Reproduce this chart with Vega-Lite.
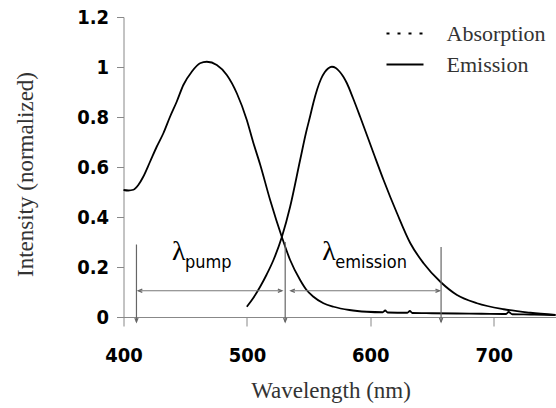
{
  "$schema": "https://vega.github.io/schema/vega-lite/v6.json",
  "autosize": {"type": "none"},
  "padding": {"left": 123.5, "top": 17, "right": 0, "bottom": 91},
  "width": 432,
  "height": 300,
  "background": "white",
  "config": {
    "view": {"stroke": null},
    "axis": {"grid": false, "labelFlush": false, "domainColor": "#888", "tickColor": "#888", "labelColor": "#000", "labelFont": "Liberation Sans Narrow, DejaVu Sans Condensed, Arial Narrow, sans-serif", "labelFontWeight": "bold", "labelFontSize": 20, "titleFont": "Liberation Serif, Times New Roman, DejaVu Serif, serif", "titleFontWeight": "normal", "titleFontSize": 23, "titleColor": "#333"}
  },
  "datasets": {
    "spectra": [
      {"series": "Absorption", "wavelength": 400, "intensity": 0.508},
      {"series": "Absorption", "wavelength": 404, "intensity": 0.506},
      {"series": "Absorption", "wavelength": 408, "intensity": 0.509},
      {"series": "Absorption", "wavelength": 412, "intensity": 0.528},
      {"series": "Absorption", "wavelength": 416, "intensity": 0.561},
      {"series": "Absorption", "wavelength": 421.5, "intensity": 0.621},
      {"series": "Absorption", "wavelength": 426.9, "intensity": 0.681},
      {"series": "Absorption", "wavelength": 432.3, "intensity": 0.735},
      {"series": "Absorption", "wavelength": 437.7, "intensity": 0.801},
      {"series": "Absorption", "wavelength": 443.1, "intensity": 0.861},
      {"series": "Absorption", "wavelength": 448.5, "intensity": 0.928},
      {"series": "Absorption", "wavelength": 455.3, "intensity": 0.981},
      {"series": "Absorption", "wavelength": 462, "intensity": 1.015},
      {"series": "Absorption", "wavelength": 467.5, "intensity": 1.021},
      {"series": "Absorption", "wavelength": 475.6, "intensity": 1.008},
      {"series": "Absorption", "wavelength": 483.7, "intensity": 0.968},
      {"series": "Absorption", "wavelength": 491.8, "intensity": 0.895},
      {"series": "Absorption", "wavelength": 499.9, "intensity": 0.788},
      {"series": "Absorption", "wavelength": 505, "intensity": 0.7},
      {"series": "Absorption", "wavelength": 510.7, "intensity": 0.61},
      {"series": "Absorption", "wavelength": 518.8, "intensity": 0.468},
      {"series": "Absorption", "wavelength": 528.3, "intensity": 0.32},
      {"series": "Absorption", "wavelength": 535, "intensity": 0.228},
      {"series": "Absorption", "wavelength": 543.1, "intensity": 0.148},
      {"series": "Absorption", "wavelength": 548, "intensity": 0.11},
      {"series": "Absorption", "wavelength": 553.9, "intensity": 0.081},
      {"series": "Absorption", "wavelength": 562, "intensity": 0.055},
      {"series": "Absorption", "wavelength": 570.2, "intensity": 0.041},
      {"series": "Absorption", "wavelength": 583, "intensity": 0.028},
      {"series": "Absorption", "wavelength": 597.2, "intensity": 0.021},
      {"series": "Absorption", "wavelength": 610, "intensity": 0.019},
      {"series": "Absorption", "wavelength": 612, "intensity": 0.026},
      {"series": "Absorption", "wavelength": 614, "intensity": 0.018},
      {"series": "Absorption", "wavelength": 630, "intensity": 0.017},
      {"series": "Absorption", "wavelength": 632, "intensity": 0.024},
      {"series": "Absorption", "wavelength": 634, "intensity": 0.016},
      {"series": "Absorption", "wavelength": 650, "intensity": 0.015},
      {"series": "Absorption", "wavelength": 670, "intensity": 0.014},
      {"series": "Absorption", "wavelength": 690, "intensity": 0.013},
      {"series": "Absorption", "wavelength": 710, "intensity": 0.012},
      {"series": "Absorption", "wavelength": 712, "intensity": 0.02},
      {"series": "Absorption", "wavelength": 715, "intensity": 0.011},
      {"series": "Absorption", "wavelength": 730, "intensity": 0.01},
      {"series": "Absorption", "wavelength": 750, "intensity": 0.008},
      {"series": "Emission", "wavelength": 499.9, "intensity": 0.041},
      {"series": "Emission", "wavelength": 505, "intensity": 0.075},
      {"series": "Emission", "wavelength": 510.7, "intensity": 0.121},
      {"series": "Emission", "wavelength": 516, "intensity": 0.17},
      {"series": "Emission", "wavelength": 521.5, "intensity": 0.228},
      {"series": "Emission", "wavelength": 528.3, "intensity": 0.32},
      {"series": "Emission", "wavelength": 535, "intensity": 0.441},
      {"series": "Emission", "wavelength": 543.1, "intensity": 0.628},
      {"series": "Emission", "wavelength": 548, "intensity": 0.74},
      {"series": "Emission", "wavelength": 551.3, "intensity": 0.805},
      {"series": "Emission", "wavelength": 554, "intensity": 0.86},
      {"series": "Emission", "wavelength": 557, "intensity": 0.912},
      {"series": "Emission", "wavelength": 560, "intensity": 0.952},
      {"series": "Emission", "wavelength": 563, "intensity": 0.979},
      {"series": "Emission", "wavelength": 566, "intensity": 0.995},
      {"series": "Emission", "wavelength": 568.8, "intensity": 1.001},
      {"series": "Emission", "wavelength": 572, "intensity": 0.996},
      {"series": "Emission", "wavelength": 575, "intensity": 0.982},
      {"series": "Emission", "wavelength": 578, "intensity": 0.962},
      {"series": "Emission", "wavelength": 581, "intensity": 0.935},
      {"series": "Emission", "wavelength": 586, "intensity": 0.875},
      {"series": "Emission", "wavelength": 591.8, "intensity": 0.8},
      {"series": "Emission", "wavelength": 602.6, "intensity": 0.655},
      {"series": "Emission", "wavelength": 610.7, "intensity": 0.548},
      {"series": "Emission", "wavelength": 621.6, "intensity": 0.415},
      {"series": "Emission", "wavelength": 632.4, "intensity": 0.295},
      {"series": "Emission", "wavelength": 643.1, "intensity": 0.215},
      {"series": "Emission", "wavelength": 656.7, "intensity": 0.141},
      {"series": "Emission", "wavelength": 670.2, "intensity": 0.088},
      {"series": "Emission", "wavelength": 686.4, "intensity": 0.055},
      {"series": "Emission", "wavelength": 708, "intensity": 0.031},
      {"series": "Emission", "wavelength": 729.7, "intensity": 0.017},
      {"series": "Emission", "wavelength": 750, "intensity": 0.008}
    ],
    "vlines": [
      {"x": 410.5, "y1": 0.29, "y2": -0.02},
      {"x": 531, "y1": 0.3, "y2": -0.02},
      {"x": 657.3, "y1": 0.28, "y2": -0.02}
    ],
    "hlines": [
      {"x1": 412, "x2": 528.3, "y": 0.105},
      {"x1": 535.6, "x2": 656, "y": 0.105}
    ],
    "heads": [
      {"x": 410.5, "y": -0.02, "dir": "down"},
      {"x": 531, "y": -0.02, "dir": "down"},
      {"x": 657.3, "y": -0.02, "dir": "down"},
      {"x": 412, "y": 0.105, "dir": "left"},
      {"x": 528.3, "y": 0.105, "dir": "right"},
      {"x": 535.6, "y": 0.105, "dir": "left"},
      {"x": 656, "y": 0.105, "dir": "right"}
    ],
    "lambdas": [
      {"x": 439.3, "y": 0.262, "sym": "λ", "sub": "pump", "xs": 449.8, "ys": 0.215},
      {"x": 561, "y": 0.262, "sym": "λ", "sub": "emission", "xs": 571.5, "ys": 0.215}
    ]
  },
  "layer": [
    {
      "data": {"name": "spectra"},
      "mark": {"type": "line", "color": "#000", "strokeWidth": 1.8, "clip": false, "interpolate": "monotone"},
      "encoding": {
        "x": {"field": "wavelength", "type": "quantitative", "scale": {"domain": [400, 750], "nice": false, "zero": false},
          "axis": {"values": [400, 500, 600, 700], "tickSize": 9, "labelPadding": 19, "title": "Wavelength (nm)", "titleX": 207, "titleY": 80, "titleBaseline": "alphabetic", "titleAnchor": null}},
        "y": {"field": "intensity", "type": "quantitative", "scale": {"domain": [0, 1.2], "nice": false, "zero": false},
          "axis": {"values": [0, 0.2, 0.4, 0.6, 0.8, 1, 1.2], "format": "~g", "tickSize": 7, "labelPadding": 8, "title": "Intensity (normalized)", "titleX": -91, "titleY": 157, "titleAngle": -90, "titleBaseline": "alphabetic", "titleAlign": "center"}},
        "detail": {"field": "series"}
      }
    },
    {
      "data": {"name": "spectra"},
      "transform": [{"filter": "datum.wavelength < 0"}],
      "mark": {"type": "line", "color": "#000", "strokeWidth": 2},
      "encoding": {
        "x": {"field": "wavelength", "type": "quantitative"},
        "y": {"field": "intensity", "type": "quantitative"},
        "strokeDash": {"field": "series", "type": "nominal",
          "scale": {"domain": ["Absorption", "Emission"], "range": [[3, 8], [1, 0]]},
          "legend": {"title": null, "orient": "none", "legendX": 262, "legendY": -3, "symbolType": "stroke", "symbolSize": 1369, "symbolStrokeWidth": 2, "symbolStrokeColor": "#000", "labelFont": "Liberation Serif, Times New Roman, DejaVu Serif, serif", "labelFontSize": 22, "labelColor": "#333", "labelOffset": 22, "rowPadding": 0}}
      }
    },
    {
      "data": {"name": "vlines"},
      "mark": {"type": "rule", "color": "#666", "strokeWidth": 1.2},
      "encoding": {
        "x": {"field": "x", "type": "quantitative"},
        "y": {"field": "y1", "type": "quantitative"},
        "y2": {"field": "y2"}
      }
    },
    {
      "data": {"name": "hlines"},
      "mark": {"type": "rule", "color": "#777", "strokeWidth": 1.2},
      "encoding": {
        "x": {"field": "x1", "type": "quantitative"},
        "x2": {"field": "x2"},
        "y": {"field": "y", "type": "quantitative"}
      }
    },
    {
      "data": {"name": "heads"},
      "mark": {"type": "point", "filled": false, "stroke": "#666", "strokeWidth": 1.2, "size": 64, "opacity": 1},
      "encoding": {
        "x": {"field": "x", "type": "quantitative"},
        "y": {"field": "y", "type": "quantitative"},
        "shape": {"field": "dir", "type": "nominal", "legend": null,
          "scale": {"domain": ["down", "left", "right"], "range": ["M-0.4,-1L0,0L0.4,-1", "M1,-0.4L0,0L1,0.4", "M-1,-0.4L0,0L-1,0.4"]}}
      }
    },
    {
      "data": {"name": "lambdas"},
      "mark": {"type": "text", "font": "Liberation Serif, Times New Roman, DejaVu Serif, serif", "fontSize": 28, "align": "left", "baseline": "middle", "color": "#000"},
      "encoding": {
        "x": {"field": "x", "type": "quantitative"},
        "y": {"field": "y", "type": "quantitative"},
        "text": {"field": "sym"}
      }
    },
    {
      "data": {"name": "lambdas"},
      "mark": {"type": "text", "font": "Liberation Sans Narrow, DejaVu Sans Condensed, Arial Narrow, sans-serif", "fontSize": 18, "align": "left", "baseline": "middle", "color": "#000"},
      "encoding": {
        "x": {"field": "xs", "type": "quantitative"},
        "y": {"field": "ys", "type": "quantitative"},
        "text": {"field": "sub"}
      }
    }
  ]
}
